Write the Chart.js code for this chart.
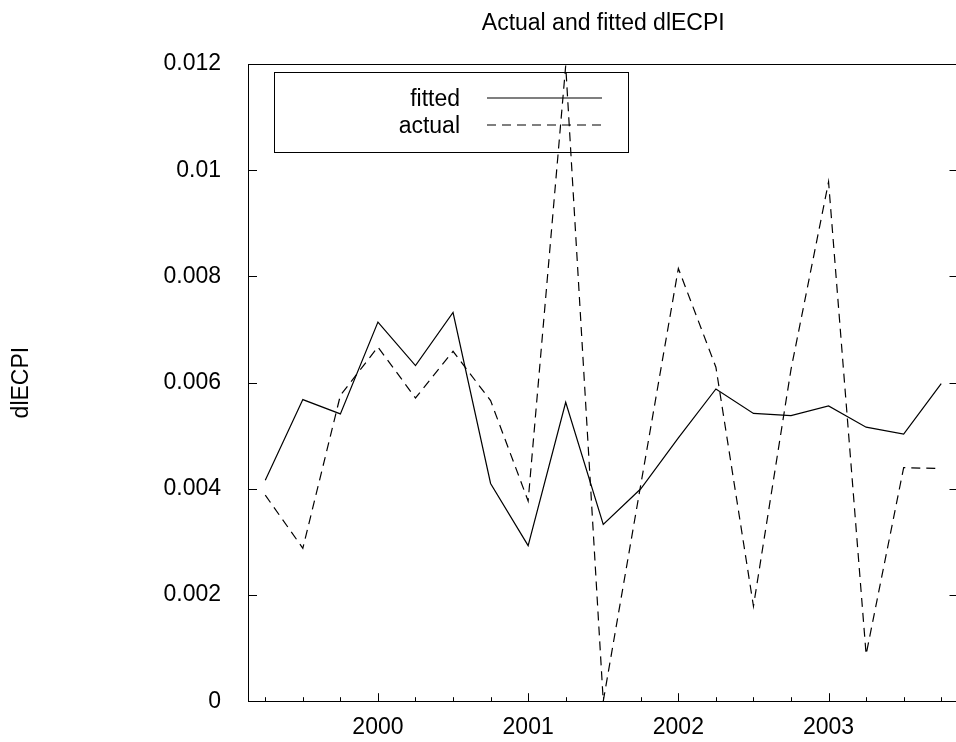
<!DOCTYPE html>
<html lang="en">
<head>
  <meta charset="UTF-8">
  <title>Actual and fitted dlECPI</title>
  <script src="https://cdn.jsdelivr.net/npm/chart.js"></script>
  <style>
    * { margin: 0; padding: 0; box-sizing: border-box; }
    body { background: #fff; overflow: hidden; }
    .wrap { width: 970px; height: 742px; }
  </style>
</head>
<body>
  <div class="wrap"><canvas id="fitChart" width="970" height="742"></canvas></div>

  <script>
    // quarterly data, 1999Q2 .. 2003Q4
    const dates = [1999.25, 1999.5, 1999.75, 2000, 2000.25, 2000.5, 2000.75,
                   2001, 2001.25, 2001.5, 2001.75, 2002, 2002.25, 2002.5, 2002.75,
                   2003, 2003.25, 2003.5, 2003.75];
    const fitted = [0.00416, 0.00568, 0.00541, 0.00714, 0.00632, 0.00732, 0.00410,
                    0.00293, 0.00563, 0.00333, 0.00400, 0.00496, 0.00588, 0.00542,
                    0.00538, 0.00556, 0.00516, 0.00503, 0.00598];
    const actual = [0.00388, 0.00288, 0.00576, 0.00667, 0.00571, 0.00659, 0.00566,
                    0.00377, 0.01197, 0.00000, 0.00408, 0.00815, 0.00629, 0.00179,
                    0.00625, 0.00978, 0.00088, 0.00440, 0.00438];
    const yearLabels = [2000, 2001, 2002, 2003];
    const yTickValues = [0, 0.002, 0.004, 0.006, 0.008, 0.01, 0.012];
    const yTickLabels = ['0', '0.002', '0.004', '0.006', '0.008', '0.01', '0.012'];

    const FONT = "'Liberation Sans', Arial, sans-serif";

    // gnuplot-like frame, inward ticks, title and legend
    const framePlugin = {
      id: 'frame',
      afterDatasetsDraw(chart) {
        const { ctx, chartArea: a, scales: { x, y } } = chart;
        ctx.save();
        ctx.strokeStyle = '#000';
        ctx.lineWidth = 1;
        ctx.strokeRect(Math.round(a.left) + 0.5, Math.round(a.top) + 0.5,
                       Math.round(a.right - a.left), Math.round(a.bottom - a.top));
        ctx.beginPath();
        x.ticks.forEach(t => {
          const px = Math.round(x.getPixelForValue(t.value)) + 0.5;
          const len = yearLabels.includes(t.value) ? 8 : 4;
          ctx.moveTo(px, a.bottom);
          ctx.lineTo(px, a.bottom - len);
        });
        y.ticks.forEach(t => {
          const py = Math.round(y.getPixelForValue(t.value)) + 0.5;
          ctx.moveTo(a.left, py); ctx.lineTo(a.left + 9, py);
          ctx.moveTo(a.right, py); ctx.lineTo(a.right - 9, py);
        });
        ctx.stroke();

        // title
        ctx.fillStyle = '#000';
        ctx.font = '23px ' + FONT;
        ctx.textAlign = 'center';
        ctx.textBaseline = 'middle';
        ctx.fillText('Actual and fitted dlECPI', (a.left + a.right) / 2, 24);

        // legend box
        const bx = a.left + 26, by = a.top + 8;
        ctx.strokeRect(Math.round(bx) + 0.5, Math.round(by) + 0.5, 354, 80);
        ctx.textAlign = 'right';
        chart.data.datasets.forEach((ds, i) => {
          const ty = a.top + 35 + i * 27;
          ctx.fillText(ds.label, a.left + 212, ty + 1);
          ctx.beginPath();
          ctx.setLineDash(ds.borderDash || []);
          ctx.lineWidth = ds.borderWidth;
          ctx.moveTo(a.left + 239, ty - 1);
          ctx.lineTo(a.left + 354, ty - 1);
          ctx.stroke();
        });
        ctx.restore();
      }
    };

    const ctx = document.getElementById('fitChart').getContext('2d');
    new Chart(ctx, {
      type: 'line',
      data: {
        datasets: [
          {
            label: 'fitted',
            data: dates.map((d, i) => ({ x: d, y: fitted[i] })),
            borderColor: '#000',
            borderWidth: 1.2,
            pointRadius: 0,
            tension: 0
          },
          {
            label: 'actual',
            data: dates.map((d, i) => ({ x: d, y: actual[i] })),
            borderColor: '#000',
            borderWidth: 1.2,
            borderDash: [9, 6],
            pointRadius: 0,
            tension: 0
          }
        ]
      },
      options: {
        responsive: false,
        animation: false,
        layout: { padding: { left: 0, top: 64, right: 11.5, bottom: 0 } },
        plugins: {
          legend: { display: false },
          title: { display: false },
          tooltip: { enabled: false }
        },
        scales: {
          x: {
            type: 'linear',
            min: 1999.135,
            max: 2003.865,
            grid: { display: false, drawTicks: false },
            border: { display: false },
            afterBuildTicks: scale => { scale.ticks = dates.map(v => ({ value: v })); },
            afterFit: scale => { scale.height = 742 - 703.3; },
            ticks: {
              autoSkip: false,
              maxRotation: 0,
              padding: 13,
              color: '#000',
              font: { family: FONT, size: 23 },
              callback: v => yearLabels.includes(v) ? String(v) : ''
            }
          },
          y: {
            min: 0,
            max: 0.012,
            grid: { display: false, drawTicks: false },
            border: { display: false },
            afterBuildTicks: scale => { scale.ticks = yTickValues.map(v => ({ value: v })); },
            afterFit: scale => { scale.width = 248; },
            ticks: {
              padding: 27,
              color: '#000',
              font: { family: FONT, size: 23 },
              callback: (v, i) => yTickLabels[i]
            },
            title: {
              display: true,
              text: 'dlECPI',
              color: '#000',
              padding: { top: 8, bottom: 0 },
              font: { family: FONT, size: 23 }
            }
          }
        }
      },
      plugins: [framePlugin]
    });
  </script>
</body>
</html>
